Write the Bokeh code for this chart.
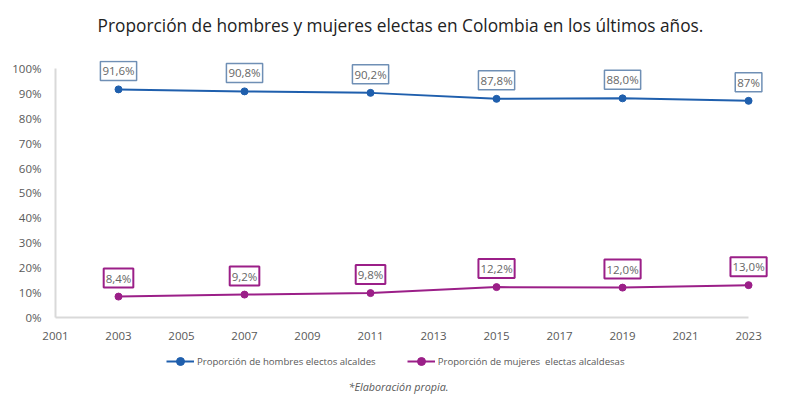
from bokeh.plotting import figure
from bokeh.models import Range1d, Legend, LegendItem, Label, FixedTicker, CustomJSTickFormatter
from bokeh.layouts import column
from bokeh.embed import file_html
from bokeh.resources import INLINE

years = [2003, 2007, 2011, 2015, 2019, 2023]
hombres = [91.6, 90.8, 90.2, 87.8, 88.0, 87.0]
mujeres = [8.4, 9.2, 9.8, 12.2, 12.0, 13.0]
hombres_lbl = ["91,6%", "90,8%", "90,2%", "87,8%", "88,0%", "87%"]
mujeres_lbl = ["8,4%", "9,2%", "9,8%", "12,2%", "12,0%", "13,0%"]
x_ticks = list(range(2001, 2024, 2))
y_ticks = list(range(0, 101, 10))

FONT = "Open Sans"
BLUE = "#1f5fad"
PURPLE = "#9b1f88"
GRAY = "#595959"


def strip(h):
    f = figure(width=800, height=h, output_backend="svg", toolbar_location=None, title=None,
               x_range=Range1d(55, 795), y_range=Range1d(0, h),
               min_border_left=55, min_border_right=5, min_border_top=0, min_border_bottom=0,
               x_axis_type=None, y_axis_type=None)
    f.outline_line_color = None
    f.xgrid.grid_line_color = None
    f.ygrid.grid_line_color = None
    return f


# title strip (frame aligned with main frame: x in page pixels)
t = strip(60)
t.add_layout(Label(x=400, y=35, text="Proporción de hombres y mujeres electas en Colombia en los últimos años.",
                   text_align="center", text_baseline="middle", text_font=FONT,
                   text_font_size="17.3px", text_color="#222222"))

p = figure(width=800, height=282, output_backend="svg", toolbar_location=None, title=None,
           x_range=Range1d(2001, 2024.49), y_range=Range1d(0, 103.2),
           min_border_left=55, min_border_right=5, min_border_top=0, min_border_bottom=22)
p.outline_line_color = None
p.xgrid.grid_line_color = None
p.ygrid.grid_line_color = None

for ax in (p.xaxis[0], p.yaxis[0]):
    ax.axis_line_color = "#d9d9d9"
    ax.axis_line_width = 2
    ax.major_tick_line_color = None
    ax.minor_tick_line_color = None
    ax.major_label_text_font = FONT
    ax.major_label_text_font_size = "11.5px"
    ax.major_label_text_color = GRAY
    ax.major_label_standoff = 8

p.xaxis.ticker = FixedTicker(ticks=x_ticks)
p.xaxis.bounds = (2001, 2023)
p.yaxis.ticker = FixedTicker(ticks=y_ticks)
p.yaxis.bounds = (0, 100)
p.yaxis.formatter = CustomJSTickFormatter(code="return tick.toFixed(0) + '%';")

p.line(years, hombres, line_color=BLUE, line_width=2)
p.scatter(years, hombres, size=7, fill_color=BLUE, line_color=BLUE)
p.line(years, mujeres, line_color=PURPLE, line_width=2)
p.scatter(years, mujeres, size=7, fill_color=PURPLE, line_color=PURPLE)

for yr, v, txt in zip(years, hombres, hombres_lbl):
    p.add_layout(Label(x=yr, y=v, text=txt, text_align="center", text_baseline="bottom",
                       y_offset=9, text_font=FONT, text_font_size="11.5px", text_color="#666666",
                       border_line_color="#6f8fb5", border_line_width=1.5,
                       background_fill_color="white", padding=2))
for yr, v, txt in zip(years, mujeres, mujeres_lbl):
    p.add_layout(Label(x=yr, y=v, text=txt, text_align="center", text_baseline="bottom",
                       y_offset=9, text_font=FONT, text_font_size="11.5px", text_color="#666666",
                       border_line_color=PURPLE, border_line_width=2,
                       background_fill_color="white", padding=2))

# legend + footnote strip (series drawn off-range so only the legend icons show)
q = strip(58)
lh = q.line(years, hombres, line_color=BLUE, line_width=2)
sh = q.scatter(years, hombres, size=7, fill_color=BLUE, line_color=BLUE)
lm = q.line(years, mujeres, line_color=PURPLE, line_width=2)
sm = q.scatter(years, mujeres, size=7, fill_color=PURPLE, line_color=PURPLE)

legend = Legend(items=[
    LegendItem(label="Proporción de hombres electos alcaldes", renderers=[lh, sh]),
    LegendItem(label="Proporción de mujeres  electas alcaldesas", renderers=[lm, sm]),
], orientation="horizontal", location=(111, 29), border_line_color=None,
    label_text_font=FONT, label_text_font_size="9.6px", label_text_color=GRAY,
    glyph_width=28, label_standoff=3, spacing=31, padding=4, margin=0,
    background_fill_alpha=0)
q.add_layout(legend, "center")

q.add_layout(Label(x=398, y=14, text="*Elaboración propia.", text_align="center",
                   text_baseline="middle", text_font=FONT, text_font_size="10.8px",
                   text_font_style="italic", text_color=GRAY))

open("out.html", "w").write(file_html(column(t, p, q, spacing=0), INLINE))
